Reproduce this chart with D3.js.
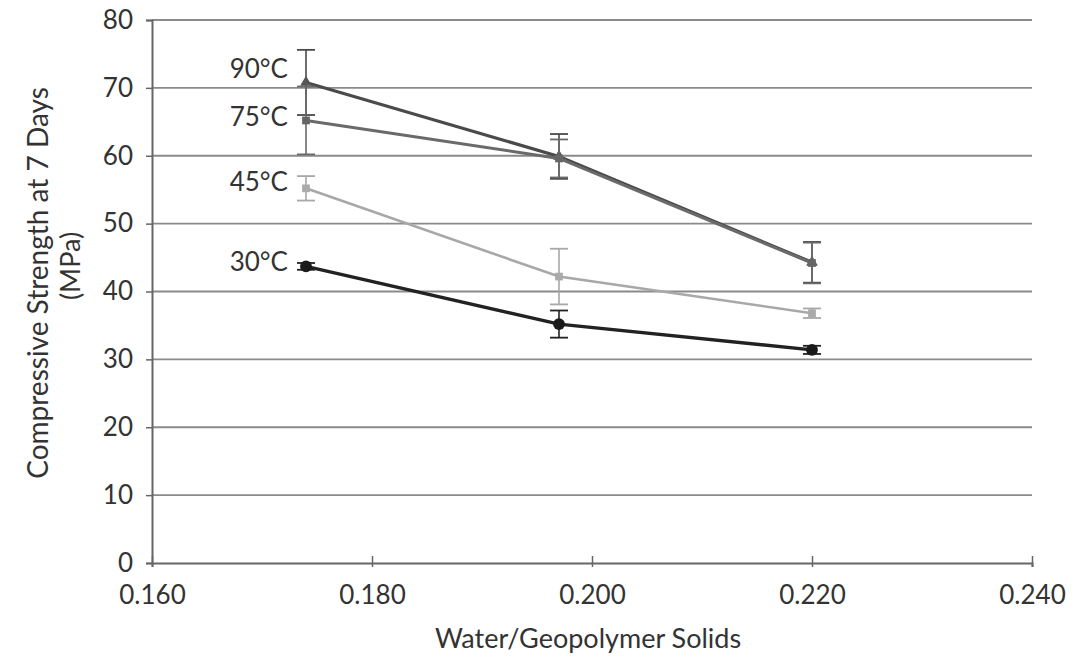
<!DOCTYPE html>
<html>
<head>
<meta charset="utf-8">
<script src="https://cdn.jsdelivr.net/npm/d3@7"></script>
<style>
  html, body { margin: 0; padding: 0; background: #fff; }
  svg text { font-family: Lato, "Open Sans", sans-serif; fill: #333; }
</style>
</head>
<body>
<svg id="chart" width="1075" height="659"></svg>
<script>
// Water / geopolymer solids ratio at which each batch was cast
const ratios = [0.174, 0.197, 0.220];

// Curing temperatures, drawn top to bottom
const temps = ["90°C", "75°C", "45°C", "30°C"];

// Mean 7-day compressive strength (MPa) per temperature
const strength90 = [70.8, 59.9, 44.3];
const strength75 = [65.2, 59.6, 44.2];
const strength45 = [55.2, 42.2, 36.8];
const strength30 = [43.7, 35.2, 31.4];

// Half-width of the error bars (MPa)
const err90 = [4.8, 3.3, 3.0];
const err75 = [5.0, 2.8, 3.0];
const err45 = [1.8, 4.1, 0.7];
const err30 = [0.5, 2.0, 0.6];

const xTicks = [0.160, 0.180, 0.200, 0.220, 0.240];
const yTicks = [0, 10, 20, 30, 40, 50, 60, 70, 80];

// Styling per series; labelDy nudges the temperature label off the first point
const series = [
  { name: temps[0], values: strength90, err: err90, color: "#4a4a4a", width: 3.2, marker: "triangle", mcolor: "#555", labelDy: -14 },
  { name: temps[1], values: strength75, err: err75, color: "#6a6a6a", width: 3,   marker: "square",   mcolor: "#666", labelDy: -4 },
  { name: temps[2], values: strength45, err: err45, color: "#a8a8a8", width: 2.6, marker: "square",   mcolor: "#aaa", labelDy: -6 },
  { name: temps[3], values: strength30, err: err30, color: "#222",    width: 3.4, marker: "circle",   mcolor: "#1a1a1a", labelDy: -4 }
];

const svg = d3.select("#chart");
const plotL = 152, plotR = 1032, plotT = 20, plotB = 563;

const x = d3.scaleLinear().domain([0.160, 0.240]).range([plotL, plotR]);
const y = d3.scaleLinear().domain([0, 80]).range([plotB, plotT]);

// Horizontal gridlines
svg.append("g")
  .selectAll("line")
  .data(yTicks.filter(d => d > 0))
  .join("line")
  .attr("x1", plotL).attr("x2", plotR)
  .attr("y1", d => y(d)).attr("y2", d => y(d))
  .attr("stroke", "#8a8a8a")
  .attr("stroke-width", 1.8);

// Y axis
const yAxis = svg.append("g")
  .attr("transform", `translate(${plotL},0)`)
  .call(d3.axisLeft(y).tickValues(yTicks).tickSize(6).tickPadding(13).tickFormat(d3.format("d")));
yAxis.select(".domain").attr("stroke", "#666").attr("stroke-width", 2);
yAxis.selectAll(".tick line").attr("stroke", "#666").attr("stroke-width", 1.5);
yAxis.selectAll(".tick text").attr("font-size", 26).attr("fill", "#333");

// X axis
const xAxis = svg.append("g")
  .attr("transform", `translate(0,${plotB})`)
  .call(d3.axisBottom(x).tickValues(xTicks).tickSize(4).tickPadding(19).tickFormat(d3.format(".3f")));
xAxis.select(".domain").attr("stroke", "#666").attr("stroke-width", 2);
xAxis.selectAll(".tick line").attr("y1", -7).attr("stroke", "#666").attr("stroke-width", 1.5);
xAxis.selectAll(".tick text").attr("font-size", 26).attr("fill", "#333");

// Axis titles
svg.append("text")
  .attr("x", 588).attr("y", 648)
  .attr("text-anchor", "middle").attr("font-size", 27)
  .text("Water/Geopolymer Solids");

svg.append("text")
  .attr("transform", "translate(48,283) rotate(-90)")
  .attr("text-anchor", "middle").attr("font-size", 28)
  .text("Compressive Strength at 7 Days");
svg.append("text")
  .attr("transform", "translate(80,266) rotate(-90)")
  .attr("text-anchor", "middle").attr("font-size", 27)
  .text("(MPa)");

const line = d3.line().x((d, i) => x(ratios[i])).y(d => y(d));
const cap = 9;

series.forEach(s => {
  const g = svg.append("g");

  // Error bars
  const eb = g.selectAll("g.eb").data(s.values).join("g");
  eb.append("line")
    .attr("x1", (d, i) => x(ratios[i])).attr("x2", (d, i) => x(ratios[i]))
    .attr("y1", (d, i) => y(d + s.err[i])).attr("y2", (d, i) => y(d - s.err[i]))
    .attr("stroke", s.color).attr("stroke-width", 1.6);
  [1, -1].forEach(sign => {
    eb.append("line")
      .attr("x1", (d, i) => x(ratios[i]) - cap).attr("x2", (d, i) => x(ratios[i]) + cap)
      .attr("y1", (d, i) => y(d + sign * s.err[i])).attr("y2", (d, i) => y(d + sign * s.err[i]))
      .attr("stroke", s.color).attr("stroke-width", 1.8);
  });

  // Series line
  g.append("path")
    .datum(s.values)
    .attr("d", line)
    .attr("fill", "none")
    .attr("stroke", s.color)
    .attr("stroke-width", s.width);

  // Markers
  const sym = s.marker === "circle" ? d3.symbolCircle : s.marker === "triangle" ? d3.symbolTriangle : d3.symbolSquare;
  const size = s.marker === "circle" ? 110 : 60;
  g.selectAll("path.m").data(s.values).join("path")
    .attr("class", "m")
    .attr("transform", (d, i) => `translate(${x(ratios[i])},${y(d)})`)
    .attr("d", d3.symbol().type(sym).size(size))
    .attr("fill", s.mcolor);

  // Temperature label beside the first point
  g.append("text")
    .attr("x", x(ratios[0]) - 18).attr("y", y(s.values[0]) + s.labelDy)
    .attr("dy", "0.35em")
    .attr("text-anchor", "end")
    .attr("font-size", 26)
    .text(s.name);
});
</script>
</body>
</html>
